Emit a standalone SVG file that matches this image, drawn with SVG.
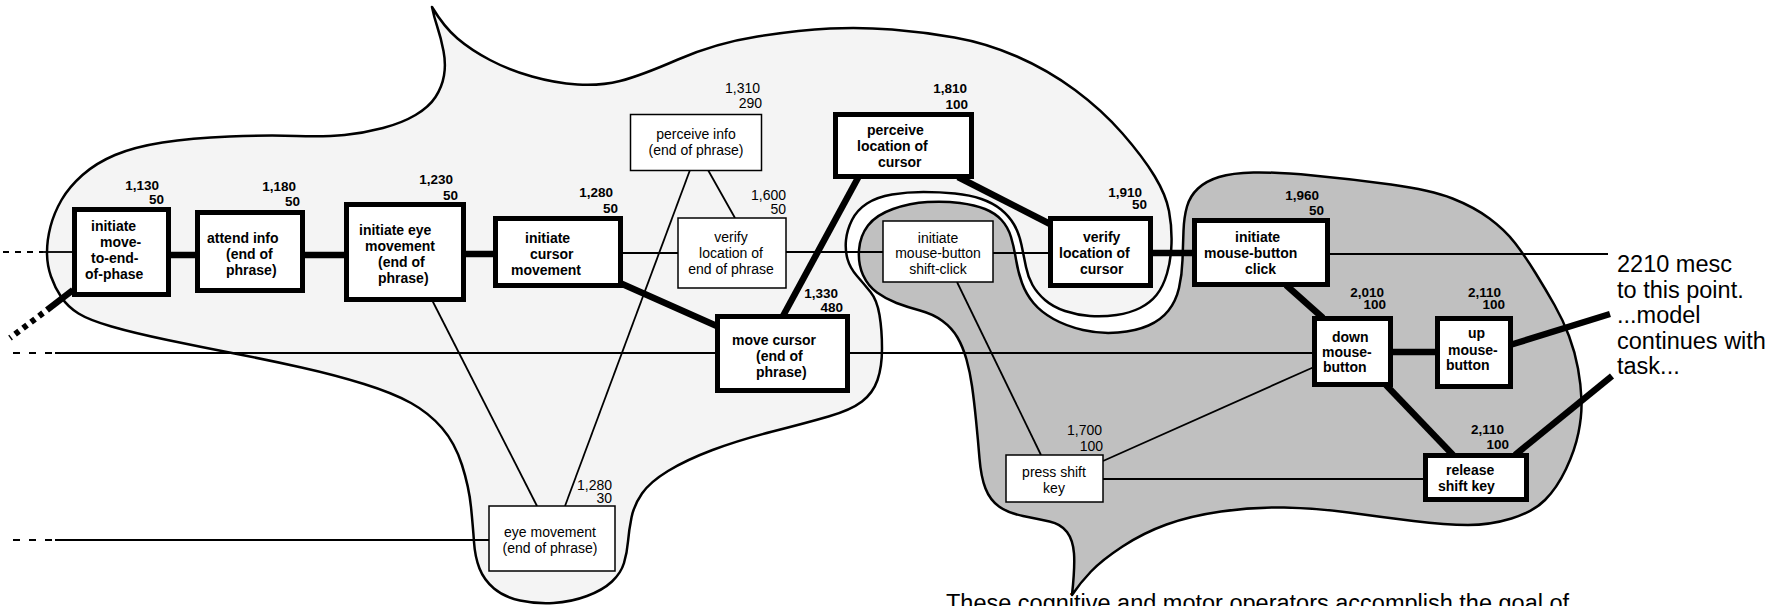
<svg xmlns="http://www.w3.org/2000/svg" width="1779" height="606" viewBox="0 0 1779 606">
<style>
.bl { fill:#f4f4f4; stroke:#000; stroke-width:2.5; stroke-linejoin:round }
.bd { fill:#c0c0c0; stroke:#000; stroke-width:2.5; stroke-linejoin:round }
.rb { fill:#fff; stroke:#000; stroke-width:5 }
.rt { fill:#fff; stroke:#000; stroke-width:1.5 }
.tb { font-family:"Liberation Sans", Arial, sans-serif; font-weight:bold; font-size:14px; fill:#000 }
.tr { font-family:"Liberation Sans", Arial, sans-serif; font-size:14px; fill:#000; text-anchor:middle }
.lb { font-family:"Liberation Sans", Arial, sans-serif; font-weight:bold; font-size:13.5px; fill:#000; text-anchor:end }
.lr { font-family:"Liberation Sans", Arial, sans-serif; font-size:14px; fill:#000; text-anchor:end }
.big { font-family:"Liberation Sans", Arial, sans-serif; font-size:23.5px; fill:#000 }
.k { stroke:#000; stroke-width:6.5; fill:none }
.n { stroke:#000; stroke-width:1.8; fill:none }
</style>

<g id="blobs">
<path class="bl" d="M 432 7 Q 444 27 457.5 38.5 Q 471 50 490 60 Q 509 70 532 76.5 Q 555 83 577.5 84.5 Q 600 86 620 81 Q 640 76 678 59.5 Q 716 43 757.5 36.5 Q 799 30 830 28.5 Q 861 27 892 29.5 Q 923 32 954.5 37.5 Q 986 43 1017 56.5 Q 1048 70 1075 90 Q 1102 110 1122.5 133.5 Q 1143 157 1154.5 176 Q 1166 195 1169 211 Q 1172 227 1171.5 243.5 Q 1171 260 1167 273.5 Q 1163 287 1156.5 295 Q 1150 303 1140 308 Q 1130 313 1116.5 315 Q 1103 317 1090 316 Q 1077 315 1065 311 Q 1053 307 1045 300 Q 1037 293 1032.5 285 Q 1028 277 1026 267 Q 1024 257 1021.5 245 Q 1019 233 1014 224.5 Q 1009 216 1001 209.5 Q 993 203 981.5 199 Q 970 195 955 193.5 Q 940 192 923.5 192 Q 907 192 892 194.5 Q 877 197 867 203.5 Q 857 210 852 220 Q 847 230 846 240 Q 845 250 847.5 259 Q 850 268 857 276 Q 864 284 870.5 292 Q 877 300 879.5 315 Q 882 330 882 348.5 Q 882 367 877.5 380 Q 873 393 862 401.5 Q 851 410 828.5 416.5 Q 806 423 772.5 431.5 Q 739 440 712.5 450 Q 686 460 668 471 Q 650 482 642 493.5 Q 634 505 631.5 517.5 Q 629 530 628 541.5 Q 627 553 624 563 Q 621 573 612 581.5 Q 603 590 587 596 Q 571 602 553.5 603 Q 536 604 520 600.5 Q 504 597 494 588.5 Q 484 580 479.5 568.5 Q 475 557 474 542 Q 473 527 471 507 Q 469 487 462 465 Q 455 443 442 428 Q 429 413 411 403 Q 393 393 364 384 Q 335 375 301.5 367.5 Q 268 360 234.5 353.5 Q 201 347 167.5 340 Q 134 333 111.5 326.5 Q 89 320 78.5 313.5 Q 68 307 61.5 297.5 Q 55 288 51 276.5 Q 47 265 47 252.5 Q 47 240 50.5 226.5 Q 54 213 61.5 200 Q 69 187 82.5 175 Q 96 163 115 155 Q 134 147 162.5 142.5 Q 191 138 229.5 136.5 Q 268 135 296.5 136 Q 325 137 344.5 135 Q 364 133 383 128 Q 402 123 415.5 115 Q 429 107 435.5 97 Q 442 87 444 75.5 Q 446 64 443.5 51 Q 441 38 437.5 27.5 Q 434 17 432 7 Z"/>
<path class="bd" d="M 1072 595 Q 1075 567 1074 553.5 Q 1073 540 1067 532 Q 1061 524 1049.5 521.5 Q 1038 519 1023 516 Q 1008 513 999 506.5 Q 990 500 985.5 488.5 Q 981 477 979.5 458.5 Q 978 440 976 420 Q 974 400 972 386 Q 970 372 966.5 359.5 Q 963 347 957.5 337.5 Q 952 328 942.5 321 Q 933 314 920 310.5 Q 907 307 896.5 303 Q 886 299 877 292.5 Q 868 286 863 275 Q 858 264 859 250 Q 860 236 868 225.5 Q 876 215 893 209 Q 910 203 927.5 202 Q 945 201 960 203 Q 975 205 985 209 Q 995 213 1001.5 220 Q 1008 227 1011 237 Q 1014 247 1016 259.5 Q 1018 272 1022 283 Q 1026 294 1033.5 303 Q 1041 312 1053.5 319 Q 1066 326 1083 330 Q 1100 334 1118 332.5 Q 1136 331 1148.5 325.5 Q 1161 320 1168.5 310.5 Q 1176 301 1179 288 Q 1182 275 1182.5 260 Q 1183 245 1183.5 231 Q 1184 217 1187 206.5 Q 1190 196 1198 188.5 Q 1206 181 1219 177 Q 1232 173 1253.5 172.5 Q 1275 172 1313 175.5 Q 1351 179 1391 184.5 Q 1431 190 1452.5 198.5 Q 1474 207 1489.5 218.5 Q 1505 230 1515 243 Q 1525 256 1535.5 273 Q 1546 290 1554.5 305 Q 1563 320 1569 336 Q 1575 352 1578 368.5 Q 1581 385 1581.5 400 Q 1582 415 1578.5 432.5 Q 1575 450 1566 469 Q 1557 488 1545 500 Q 1533 512 1511.5 518.5 Q 1490 525 1468 525 Q 1446 525 1413.5 521 Q 1381 517 1348.5 512.5 Q 1316 508 1284 507.5 Q 1252 507 1221 511.5 Q 1190 516 1166.5 524.5 Q 1143 533 1122.5 546.5 Q 1102 560 1091 571.5 Q 1080 583 1072 595 Z"/>
</g>

<g id="connectors">
<line class="n" x1="3" y1="252" x2="43" y2="252" stroke-dasharray="6 6"/>
<line class="n" x1="43" y1="252" x2="74" y2="252"/>
<line class="n" x1="13" y1="353" x2="55" y2="353" stroke-dasharray="7 9"/>
<line class="n" x1="55" y1="353" x2="717" y2="353"/>
<line class="n" x1="13" y1="540" x2="55" y2="540" stroke-dasharray="7 9"/>
<line class="n" x1="55" y1="540" x2="489" y2="540"/>
<line class="k" x1="73" y1="290" x2="47" y2="310"/>
<line x1="43" y1="313" x2="10" y2="338" stroke="#000" stroke-width="6" stroke-dasharray="5 5"/>
<line class="k" x1="168" y1="255" x2="198" y2="255"/>
<line class="k" x1="302" y1="255" x2="347" y2="255"/>
<line class="k" x1="463" y1="254" x2="496" y2="254"/>
<line class="n" x1="620" y1="253" x2="678" y2="253"/>
<line class="n" x1="786" y1="252" x2="883" y2="252"/>
<line class="n" x1="993" y1="253" x2="1050" y2="253"/>
<line class="k" x1="1150" y1="253" x2="1195" y2="253"/>
<line class="n" x1="1327" y1="254" x2="1608" y2="254"/>
<line class="k" x1="620" y1="283" x2="719" y2="327"/>
<line class="k" x1="783" y1="316" x2="859" y2="176"/>
<line class="k" x1="958" y1="177" x2="1052" y2="225"/>
<line class="n" x1="848" y1="353" x2="1314" y2="353"/>
<line class="n" x1="432" y1="300" x2="537" y2="506"/>
<line class="n" x1="690" y1="170" x2="565" y2="506"/>
<line class="n" x1="708" y1="170" x2="735" y2="218"/>
<line class="n" x1="957" y1="282" x2="1041" y2="455"/>
<line class="n" x1="1103" y1="461" x2="1314" y2="367"/>
<line class="n" x1="1103" y1="479" x2="1425" y2="479"/>
<line class="k" x1="1286" y1="285" x2="1323" y2="318"/>
<line class="k" x1="1390" y1="352" x2="1438" y2="352"/>
<line class="k" x1="1386" y1="385" x2="1453" y2="455"/>
<line class="k" x1="1510" y1="345" x2="1610" y2="314"/>
<line class="k" x1="1515" y1="455" x2="1612" y2="376"/>
</g>

<g id="n-initiate-move">
<rect class="rb" x="74.5" y="209.5" width="94" height="85"/>
<text class="tb" x="91" y="231">initiate</text>
<text class="tb" x="100" y="247">move-</text>
<text class="tb" x="91" y="263">to-end-</text>
<text class="tb" x="85" y="279">of-phase</text>
<text class="lb" x="159" y="190">1,130</text>
<text class="lb" x="164" y="204">50</text>
</g>

<g id="n-attend-info">
<rect class="rb" x="197.5" y="212.5" width="105" height="78"/>
<text class="tb" x="207" y="243">attend info</text>
<text class="tb" x="226" y="259">(end of</text>
<text class="tb" x="226" y="275">phrase)</text>
<text class="lb" x="296" y="191">1,180</text>
<text class="lb" x="300" y="206">50</text>
</g>

<g id="n-initiate-eye">
<rect class="rb" x="346.5" y="204.5" width="117" height="95"/>
<text class="tb" x="359" y="235">initiate eye</text>
<text class="tb" x="365" y="251">movement</text>
<text class="tb" x="378" y="267">(end of</text>
<text class="tb" x="378" y="283">phrase)</text>
<text class="lb" x="453" y="184">1,230</text>
<text class="lb" x="458" y="200">50</text>
</g>

<g id="n-initiate-cursor">
<rect class="rb" x="495.5" y="218.5" width="125" height="67"/>
<text class="tb" x="525" y="243">initiate</text>
<text class="tb" x="530" y="259">cursor</text>
<text class="tb" x="511" y="275">movement</text>
<text class="lb" x="613" y="197">1,280</text>
<text class="lb" x="618" y="213">50</text>
</g>

<g id="n-perceive-info">
<rect class="rt" x="630.5" y="114.5" width="131" height="56"/>
<text class="tr" x="696" y="139">perceive info</text>
<text class="tr" x="696" y="155">(end of phrase)</text>
<text class="lr" x="760" y="93">1,310</text>
<text class="lr" x="762" y="108">290</text>
</g>

<g id="n-verify-end">
<rect class="rt" x="678" y="218" width="108" height="70"/>
<text class="tr" x="731" y="242">verify</text>
<text class="tr" x="731" y="258">location of</text>
<text class="tr" x="731" y="274">end of phrase</text>
<text class="lr" x="786" y="200">1,600</text>
<text class="lr" x="786" y="214">50</text>
</g>

<g id="n-move-cursor">
<rect class="rb" x="717.5" y="316.5" width="130" height="74"/>
<text class="tb" x="732" y="345">move cursor</text>
<text class="tb" x="756" y="361">(end of</text>
<text class="tb" x="756" y="377">phrase)</text>
<text class="lb" x="838" y="298">1,330</text>
<text class="lb" x="843" y="312">480</text>
</g>

<g id="n-perceive-location">
<rect class="rb" x="835.5" y="114.5" width="136" height="62"/>
<text class="tb" x="867" y="135">perceive</text>
<text class="tb" x="857" y="151">location of</text>
<text class="tb" x="878" y="167">cursor</text>
<text class="lb" x="967" y="93">1,810</text>
<text class="lb" x="968" y="109">100</text>
</g>

<g id="n-shift-click">
<rect class="rt" x="883" y="221" width="110" height="61"/>
<text class="tr" x="938" y="243">initiate</text>
<text class="tr" x="938" y="258">mouse-button</text>
<text class="tr" x="938" y="274">shift-click</text>
</g>

<g id="n-verify-cursor">
<rect class="rb" x="1050.5" y="218.5" width="100" height="67"/>
<text class="tb" x="1083" y="242">verify</text>
<text class="tb" x="1059" y="258">location of</text>
<text class="tb" x="1080" y="274">cursor</text>
<text class="lb" x="1142" y="197">1,910</text>
<text class="lb" x="1147" y="209">50</text>
</g>

<g id="n-click">
<rect class="rb" x="1194.5" y="220.5" width="133" height="64"/>
<text class="tb" x="1235" y="242">initiate</text>
<text class="tb" x="1204" y="258">mouse-button</text>
<text class="tb" x="1245" y="274">click</text>
<text class="lb" x="1319" y="200">1,960</text>
<text class="lb" x="1324" y="215">50</text>
</g>

<g id="n-down">
<rect class="rb" x="1314.5" y="318.5" width="76" height="66"/>
<text class="tb" x="1332" y="342">down</text>
<text class="tb" x="1322" y="357">mouse-</text>
<text class="tb" x="1323" y="372">button</text>
<text class="lb" x="1384" y="297">2,010</text>
<text class="lb" x="1386" y="309">100</text>
</g>

<g id="n-up">
<rect class="rb" x="1437.5" y="318.5" width="73" height="68"/>
<text class="tb" x="1468" y="338">up</text>
<text class="tb" x="1448" y="355">mouse-</text>
<text class="tb" x="1446" y="370">button</text>
<text class="lb" x="1501" y="297">2,110</text>
<text class="lb" x="1505" y="309">100</text>
</g>

<g id="n-release">
<rect class="rb" x="1425.5" y="455.5" width="101" height="44"/>
<text class="tb" x="1446" y="475">release</text>
<text class="tb" x="1438" y="491">shift key</text>
<text class="lb" x="1504" y="434">2,110</text>
<text class="lb" x="1509" y="449">100</text>
</g>

<g id="n-press-shift">
<rect class="rt" x="1006" y="455" width="97" height="47"/>
<text class="tr" x="1054" y="477">press shift</text>
<text class="tr" x="1054" y="493">key</text>
<text class="lr" x="1102" y="435">1,700</text>
<text class="lr" x="1103" y="451">100</text>
</g>

<g id="n-eye-movement">
<rect class="rt" x="489" y="506" width="126" height="65"/>
<text class="tr" x="550" y="537">eye movement</text>
<text class="tr" x="550" y="553">(end of phrase)</text>
<text class="lr" x="612" y="490">1,280</text>
<text class="lr" x="612" y="503">30</text>
</g>

<g id="notes">
<text class="big" x="1617" y="272">2210 mesc</text>
<text class="big" x="1617" y="297.5">to this point.</text>
<text class="big" x="1617" y="323">...model</text>
<text class="big" x="1617" y="348.5">continues with</text>
<text class="big" x="1617" y="374">task...</text>
<text class="big" x="946" y="611" font-size="22.3">These cognitive and motor operators accomplish the goal of</text>
</g>
</svg>
